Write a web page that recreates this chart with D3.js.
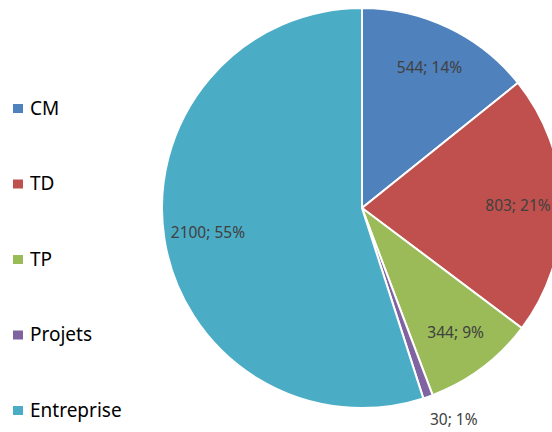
<!DOCTYPE html>
<html>
<head>
<meta charset="utf-8">
<script src="https://cdn.jsdelivr.net/npm/d3@7"></script>
<style>
  body { margin: 0; background: #fff; }
  svg { display: block; font-family: "Noto Sans", "Open Sans", sans-serif; }
</style>
</head>
<body>
<div id="chart"></div>
<script>
const categories = ["CM", "TD", "TP", "Projets", "Entreprise"];
const values = [544, 803, 344, 30, 2100];
const colors = ["#4F81BD", "#C0504D", "#9BBB59", "#8064A2", "#4BACC6"];

const width = 552, height = 432;
const cx = 362, cy = 208, radius = 200;

const svg = d3.select("#chart").append("svg")
    .attr("width", width)
    .attr("height", height);

const total = d3.sum(values);
const data = categories.map((c, i) => ({ name: c, value: values[i], color: colors[i] }));

const pie = d3.pie().value(d => d.value).sort(null);
const arcs = pie(data);
const arc = d3.arc().innerRadius(0).outerRadius(radius);
const labelArc = d3.arc().innerRadius(radius * 0.78).outerRadius(radius * 0.78);
const outerLabelArc = d3.arc().innerRadius(radius * 1.12).outerRadius(radius * 1.12);

const g = svg.append("g").attr("transform", `translate(${cx},${cy})`);

g.selectAll("path.slice")
    .data(arcs)
    .enter().append("path")
    .attr("class", "slice")
    .attr("d", arc)
    .attr("fill", d => d.data.color)
    .attr("stroke", "#fff")
    .attr("stroke-width", 2);

// small slices get their label outside the pie
const isSmall = d => d.data.value / total < 0.03;

g.selectAll("text.lbl")
    .data(arcs)
    .enter().append("text")
    .attr("class", "lbl")
    .attr("transform", d => {
        const p = (isSmall(d) ? outerLabelArc : labelArc).centroid(d);
        return `translate(${p[0]},${p[1]})`;
    })
    .attr("text-anchor", d => isSmall(d) ? "start" : "middle")
    .attr("dx", d => isSmall(d) ? -6 : 0)
    .attr("dy", "0.35em")
    .style("font-size", "15.5px")
    .style("fill", "#404040")
    .text(d => `${d.data.value}; ${Math.round(d.data.value / total * 100)}%`);

// legend
const legendY = d3.scalePoint().domain(categories).range([108, 410]);
const legend = svg.append("g");
const items = legend.selectAll("g")
    .data(data)
    .enter().append("g")
    .attr("transform", d => `translate(13,${legendY(d.name)})`);

items.append("rect")
    .attr("x", 0)
    .attr("y", -4)
    .attr("width", 10)
    .attr("height", 9)
    .attr("fill", d => d.color);

items.append("text")
    .attr("x", 17)
    .attr("dy", "0.36em")
    .style("font-size", "19px")
    .style("fill", "#000")
    .text(d => d.name);
</script>
</body>
</html>
